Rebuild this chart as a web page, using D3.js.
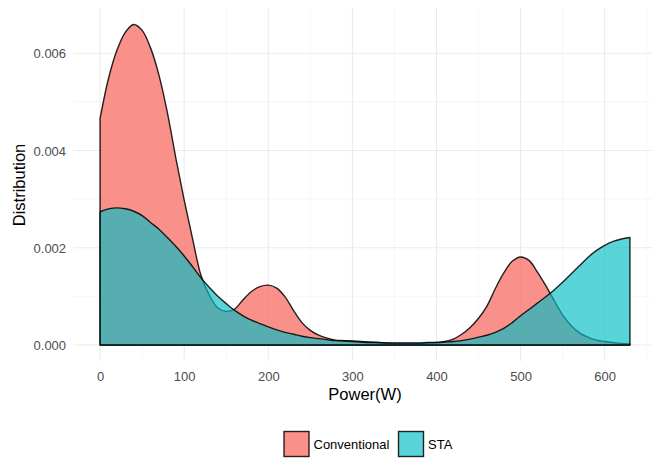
<!DOCTYPE html>
<html>
<head>
<meta charset="utf-8">
<script src="https://cdn.jsdelivr.net/npm/d3@7"></script>
<style>
  body { margin: 0; background: #fff; }
  svg { display: block; font-family: "Liberation Sans", Arial, sans-serif; }
</style>
</head>
<body>
<svg id="chart" width="652" height="458"></svg>
<script>
// Power grid (W) at which both density estimates are sampled
const powerGrid = d3.range(0, 631, 10);

// Kernel density of power draw, conventional controller
const conventionalDensity = [
  0.00466, 0.00548, 0.00606, 0.00643, 0.00659, 0.00647, 0.00611, 0.00555, 0.00478, 0.00385,
  0.00298, 0.00218, 0.00143, 0.00102, 0.00076, 0.00069, 0.00074, 0.00093, 0.00110, 0.00120,
  0.00123, 0.00117, 0.00099, 0.00071, 0.00046, 0.00030, 0.00020, 0.00014, 0.00010, 0.00009,
  0.00008, 0.00007, 0.00006, 0.00005, 0.00004, 0.00003, 0.00003, 0.00003, 0.00003, 0.00004,
  0.00005, 0.00007, 0.00012, 0.00022, 0.00036, 0.00055, 0.00080, 0.00116, 0.00148, 0.00172,
  0.00181, 0.00174, 0.00150, 0.00122, 0.00091, 0.00062, 0.00040, 0.00025, 0.00016, 0.00010,
  0.00007, 0.00005, 0.00003, 0.00002
];

// Kernel density of power draw, STA controller
const staDensity = [
  0.00274, 0.00280, 0.00282, 0.00280, 0.00275, 0.00266, 0.00252, 0.00238, 0.00221, 0.00203,
  0.00183, 0.00161, 0.00138, 0.00118, 0.00100, 0.00085, 0.00071, 0.00060, 0.00051, 0.00044,
  0.00037, 0.00031, 0.00026, 0.00022, 0.00018, 0.00015, 0.00013, 0.00011, 0.00009, 0.00008,
  0.00007, 0.00006, 0.00005, 0.00005, 0.00004, 0.00004, 0.00004, 0.00004, 0.00004, 0.00005,
  0.00005, 0.00006, 0.00007, 0.00009, 0.00012, 0.00016, 0.00020, 0.00026, 0.00034, 0.00046,
  0.00060, 0.00073, 0.00086, 0.00099, 0.00113, 0.00129, 0.00146, 0.00163, 0.00180, 0.00194,
  0.00205, 0.00213, 0.00218, 0.00221
];

const seriesNames = ["Conventional", "STA"];
const seriesColors = ["#F8766D", "#00BFC4"];
const seriesAlpha = [0.8, 0.65];

const xTicks = [0, 100, 200, 300, 400, 500, 600];
const xMinorTicks = [50, 150, 250, 350, 450, 550, 650];
const yTicks = [0, 0.002, 0.004, 0.006];
const yMinorTicks = [0.001, 0.003, 0.005];

const svg = d3.select("#chart");

// panel extent (5% expansion on both axes)
const xMax = 630, yMax = 0.0066;
const x = d3.scaleLinear()
  .domain([-0.05 * xMax, xMax * 1.05])
  .range([73.6, 656.4]);
const y = d3.scaleLinear()
  .domain([-0.05 * yMax, yMax * 1.05])
  .range([361, 8]);

const panel = { left: 73.6, right: 652, top: 8, bottom: 361 };

// grid
const grid = svg.append("g");
grid.selectAll(".vminor").data(xMinorTicks).join("line")
  .attr("x1", d => x(d)).attr("x2", d => x(d))
  .attr("y1", panel.top).attr("y2", panel.bottom)
  .attr("stroke", "#f2f2f2").attr("stroke-width", 0.6);
grid.selectAll(".hminor").data(yMinorTicks).join("line")
  .attr("y1", d => y(d)).attr("y2", d => y(d))
  .attr("x1", panel.left).attr("x2", panel.right)
  .attr("stroke", "#f2f2f2").attr("stroke-width", 0.6);
grid.selectAll(".vmajor").data(xTicks).join("line")
  .attr("x1", d => x(d)).attr("x2", d => x(d))
  .attr("y1", panel.top).attr("y2", panel.bottom)
  .attr("stroke", "#ebebeb").attr("stroke-width", 1.1);
grid.selectAll(".hmajor").data(yTicks).join("line")
  .attr("y1", d => y(d)).attr("y2", d => y(d))
  .attr("x1", panel.left).attr("x2", panel.right)
  .attr("stroke", "#ebebeb").attr("stroke-width", 1.1);

// density areas, drawn as closed polygons (baseline included)
const area = d3.area()
  .x((d, i) => x(powerGrid[i]))
  .y0(y(0))
  .y1(d => y(d))
  .curve(d3.curveCatmullRom.alpha(0.5));

[conventionalDensity, staDensity].forEach((vals, k) => {
  svg.append("path")
    .attr("d", area(vals))
    .attr("fill", seriesColors[k])
    .attr("fill-opacity", seriesAlpha[k])
    .attr("stroke", "#000")
    .attr("stroke-opacity", 0.85)
    .attr("stroke-width", 1.4)
    .attr("stroke-linejoin", "round");
});

// axis labels
const xAxis = d3.axisBottom(x).tickValues(xTicks).tickSize(0).tickPadding(0).tickFormat(d3.format("d"));
const gx = svg.append("g").attr("transform", `translate(0,${panel.bottom})`).call(xAxis);
gx.select(".domain").remove();
gx.selectAll("text").attr("y", 20).attr("dy", 0)
  .attr("fill", "#4d4d4d").style("font-size", "13px").style("font-family", "Liberation Sans, Arial, sans-serif");

const yAxis = d3.axisLeft(y).tickValues(yTicks).tickSize(0).tickPadding(0).tickFormat(d3.format(".3f"));
const gy = svg.append("g").attr("transform", `translate(${panel.left},0)`).call(yAxis);
gy.select(".domain").remove();
gy.selectAll("text").attr("x", -7.5).attr("dy", "0.35em")
  .attr("fill", "#4d4d4d").style("font-size", "13px").style("font-family", "Liberation Sans, Arial, sans-serif");

svg.append("text")
  .attr("x", 365).attr("y", 399.5)
  .attr("text-anchor", "middle")
  .style("font-size", "16.5px")
  .attr("fill", "#000")
  .text("Power(W)");

svg.append("text")
  .attr("transform", "translate(24.5,185) rotate(-90)")
  .attr("text-anchor", "middle")
  .style("font-size", "16.5px")
  .attr("fill", "#000")
  .text("Distribution");

// legend
const legendItems = [
  { name: seriesNames[0], color: seriesColors[0], alpha: seriesAlpha[0], bx: 284 },
  { name: seriesNames[1], color: seriesColors[1], alpha: seriesAlpha[1], bx: 398.5 }
];
const lg = svg.append("g");
legendItems.forEach(it => {
  lg.append("rect")
    .attr("x", it.bx).attr("y", 431.5).attr("width", 25).attr("height", 25)
    .attr("fill", it.color).attr("fill-opacity", it.alpha)
    .attr("stroke", "#000").attr("stroke-opacity", 0.85).attr("stroke-width", 1.4);
  lg.append("text")
    .attr("x", it.bx + 29.5).attr("y", 444).attr("dy", "0.35em")
    .style("font-size", "13px")
    .attr("fill", "#000")
    .text(it.name);
});
</script>
</body>
</html>
